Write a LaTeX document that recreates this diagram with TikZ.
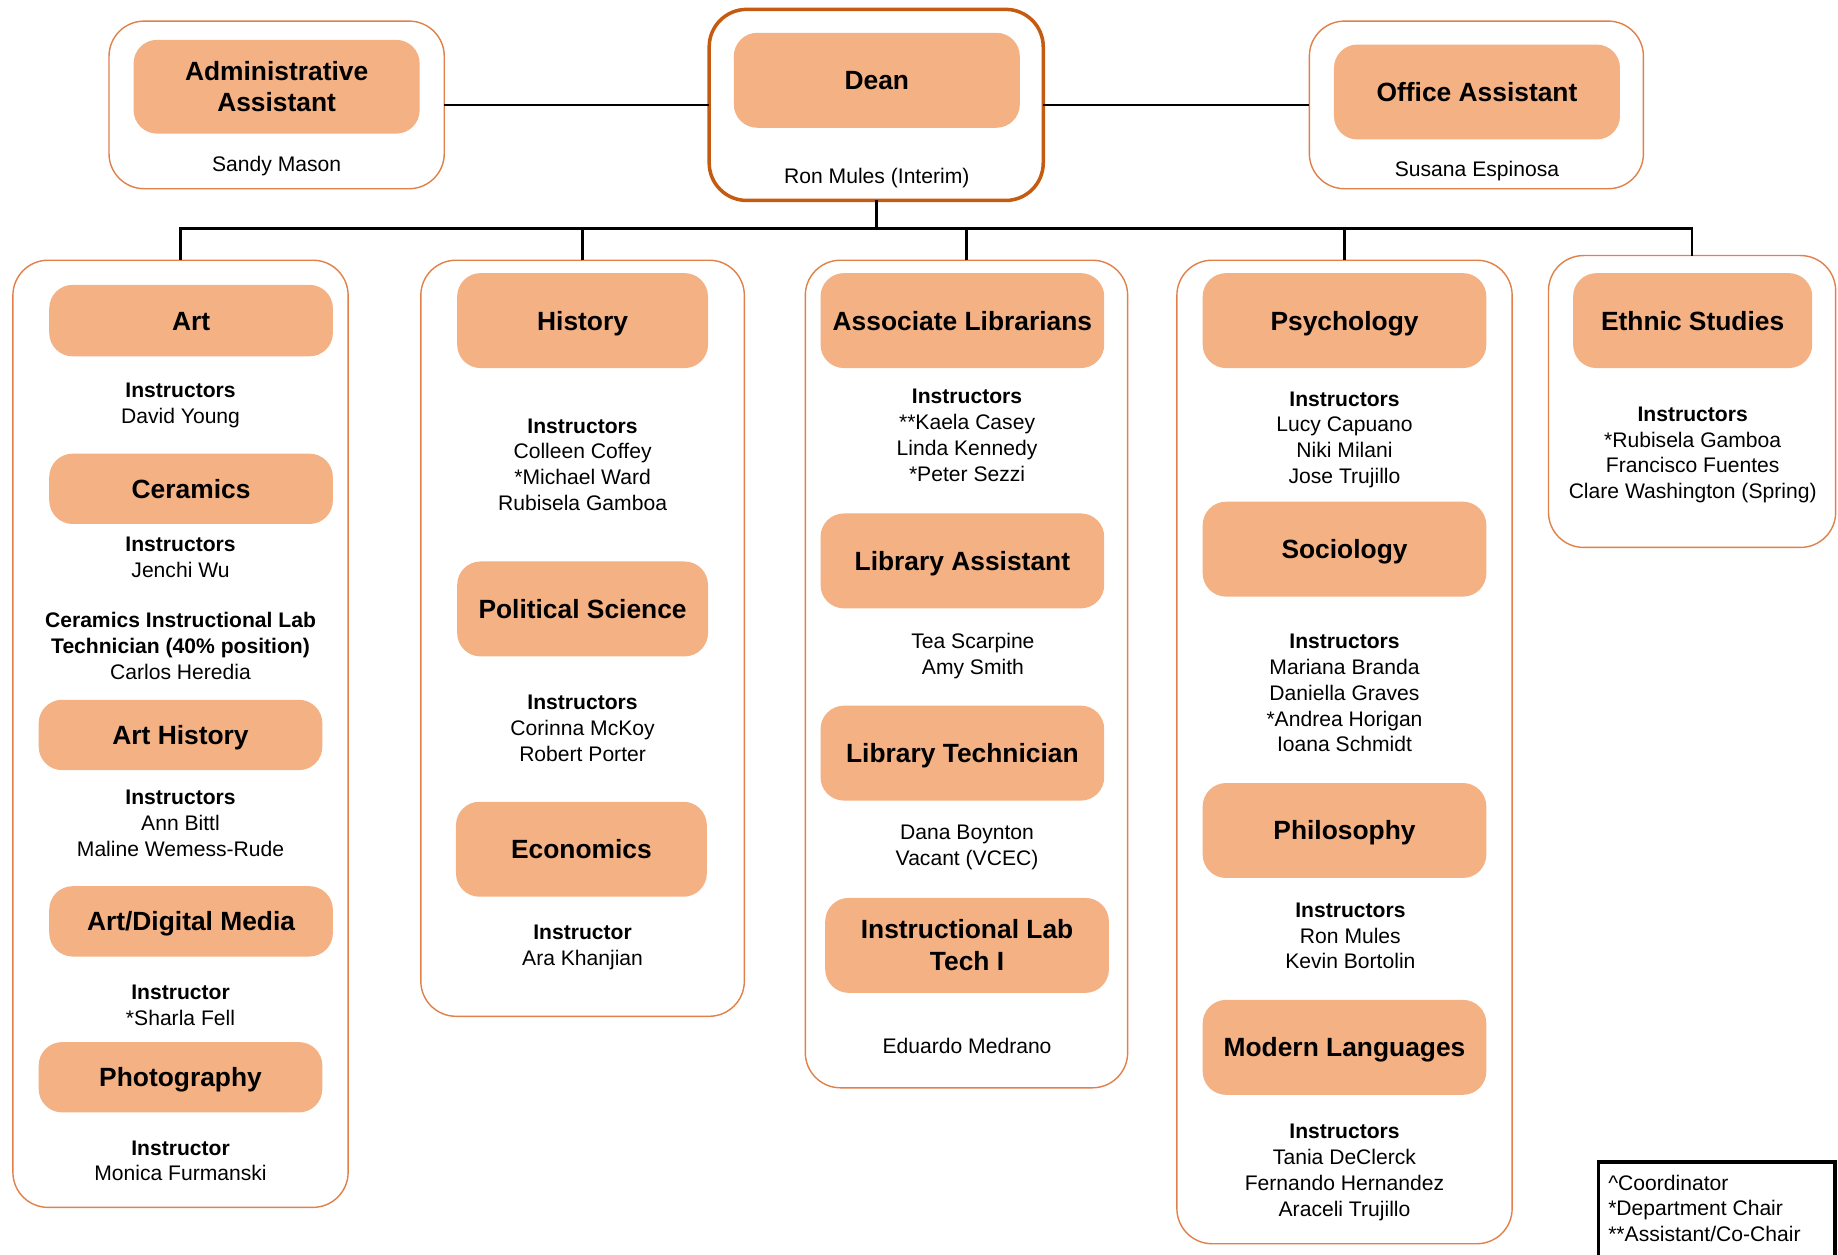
\documentclass[tikz,border=0pt]{standalone}
\usepackage{fontspec}
\setmainfont{Liberation Sans}
\definecolor{boxfill}{HTML}{F4B183}
\definecolor{thinorange}{HTML}{E0814A}
\definecolor{deanorange}{HTML}{C55A11}
\newcommand\lns[1]{\begin{tabular}[t]{@{}c@{}}#1\end{tabular}}
\begin{document}
\begin{tikzpicture}[x=1pt,y=-1pt,
  outerbox/.style={draw=thinorange, line width=1.2pt, rounded corners=30pt, fill=white, inner sep=0pt, outer sep=0pt},
  deanbox/.style={draw=deanorange, line width=3pt, rounded corners=32pt, fill=white, inner sep=0pt, outer sep=0pt},
  titlebox/.style={fill=boxfill, draw=none, rounded corners=20pt, inner sep=0pt, outer sep=0pt,
    font=\fontsize{22.5}{27}\selectfont\bfseries, align=center},
  onel/.style={titlebox, text height=16.1pt, text depth=0pt},
  txt/.style={anchor=base, inner sep=0pt, outer sep=0pt, font=\fontsize{18}{22}\selectfont},
  conn/.style={draw=black, line width=2.3pt}]
\useasboundingbox (0,0) rectangle (1568,1070);
\fill[white] (0,0) rectangle (1568,1070);

% ---- outer boxes ----
\node[outerbox, minimum width=286pt, minimum height=143pt] (admO) at (236,89.5) {};
\node[deanbox, minimum width=285pt, minimum height=163pt] (deanO) at (747.5,89.5) {};
\node[outerbox, minimum width=285pt, minimum height=143pt] (offO) at (1259.5,89.5) {};
\node[outerbox, minimum width=286pt, minimum height=808pt] (artO) at (154,626) {};
\node[outerbox, minimum width=276pt, minimum height=645pt] (histO) at (497,544.5) {};
\node[outerbox, minimum width=275pt, minimum height=706pt] (libO) at (824.5,575) {};
\node[outerbox, minimum width=286pt, minimum height=839pt] (psyO) at (1147,641.5) {};
\node[outerbox, minimum width=245pt, minimum height=249pt] (ethO) at (1443.5,342.5) {};

% ---- connectors ----
\coordinate (bus) at (748,195);
\draw[conn] (admO.east) -- (deanO.west);
\draw[conn] (deanO.east) -- (offO.west);
\draw[conn] (deanO.south) -- (deanO.south |- bus);
\draw[conn] (artO.north) -- (artO.north |- bus) -- (ethO.north |- bus) -- (ethO.north);
\draw[conn] (histO.north |- bus) -- (histO.north);
\draw[conn] (libO.north |- bus) -- (libO.north);
\draw[conn] (psyO.north |- bus) -- (psyO.north);

% ---- top row ----
\node[titlebox, minimum width=244pt, minimum height=80pt] (admT) at (236,74) {Administrative\\Assistant};
\node[txt] (admN) at (236,146) {Sandy Mason};
\node[onel, minimum width=244pt, minimum height=81pt] (deanT) at (748,68.5) {Dean};
\node[txt] (deanN) at (748,156.5) {Ron Mules (Interim)};
\node[onel, minimum width=244pt, minimum height=81pt] (offT) at (1260,78.5) {Office Assistant};
\node[txt] (offN) at (1260,150.5) {Susana Espinosa};

% ---- Art column ----
\node[onel, minimum width=242pt, minimum height=61pt] (art) at (163,273.5) {Art};
\node[txt] (artN) at (154,339.5) {\lns{\textbf{Instructors}\\David Young}};
\node[onel, minimum width=242pt, minimum height=60pt] (cer) at (163,417) {Ceramics};
\node[txt] (cerN) at (154,470.5) {\lns{\textbf{Instructors}\\Jenchi Wu}};
\node[txt] (cerL) at (154,535.5) {\lns{\textbf{Ceramics Instructional Lab}\\\textbf{Technician (40\% position)}\\Carlos Heredia}};
\node[onel, minimum width=242pt, minimum height=60pt] (arth) at (154,627) {Art History};
\node[txt] (arthN) at (154,686.5) {\lns{\textbf{Instructors}\\Ann Bittl\\Maline Wemess-Rude}};
\node[onel, minimum width=242pt, minimum height=60pt] (adm) at (163,786) {Art/Digital Media};
\node[txt] (admdN) at (154,852.5) {\lns{\textbf{Instructor}\\{}*Sharla Fell}};
\node[onel, minimum width=242pt, minimum height=60pt] (photo) at (154,919) {Photography};
\node[txt] (photoN) at (154,985.5) {\lns{\textbf{Instructor}\\Monica Furmanski}};

% ---- History column ----
\node[onel, minimum width=214pt, minimum height=81pt] (hist) at (497,273.5) {History};
\node[txt] (histN) at (497,369.5) {\lns{\textbf{Instructors}\\Colleen Coffey\\{}*Michael Ward\\Rubisela Gamboa}};
\node[onel, minimum width=214pt, minimum height=81pt] (pol) at (497,519.5) {Political Science};
\node[txt] (polN) at (497,605.5) {\lns{\textbf{Instructors}\\Corinna McKoy\\Robert Porter}};
\node[onel, minimum width=214pt, minimum height=81pt] (econ) at (496,724.5) {Economics};
\node[txt] (econN) at (497,801.5) {\lns{\textbf{Instructor}\\Ara Khanjian}};

% ---- Library column ----
\node[onel, minimum width=242pt, minimum height=81pt] (alib) at (821,273.5) {Associate Librarians};
\node[txt] (alibN) at (825,344.5) {\lns{\textbf{Instructors}\\{}**Kaela Casey\\Linda Kennedy\\{}*Peter Sezzi}};
\node[onel, minimum width=242pt, minimum height=81pt] (lasst) at (821,478.5) {Library Assistant};
\node[txt] (lasstN) at (830,553.5) {\lns{Tea Scarpine\\Amy Smith}};
\node[onel, minimum width=242pt, minimum height=81pt] (ltech) at (821,642.5) {Library Technician};
\node[txt] (ltechN) at (825,716.5) {\lns{Dana Boynton\\Vacant (VCEC)}};
\node[titlebox, minimum width=242pt, minimum height=81pt] (ilab) at (825,806.5) {Instructional Lab\\Tech I};
\node[txt] (ilabN) at (825,898.5) {Eduardo Medrano};

% ---- Psychology column ----
\node[onel, minimum width=242pt, minimum height=81pt] (psy) at (1147,273.5) {Psychology};
\node[txt] (psyN) at (1147,346.5) {\lns{\textbf{Instructors}\\Lucy Capuano\\Niki Milani\\Jose Trujillo}};
\node[onel, minimum width=242pt, minimum height=81pt] (soc) at (1147,468.5) {Sociology};
\node[txt] (socN) at (1147,553.5) {\lns{\textbf{Instructors}\\Mariana Branda\\Daniella Graves\\{}*Andrea Horigan\\Ioana Schmidt}};
\node[onel, minimum width=242pt, minimum height=81pt] (phil) at (1147,708.5) {Philosophy};
\node[txt] (philN) at (1152,782.5) {\lns{\textbf{Instructors}\\Ron Mules\\Kevin Bortolin}};
\node[onel, minimum width=242pt, minimum height=81pt] (mod) at (1147,893.5) {Modern Languages};
\node[txt] (modN) at (1147,971.5) {\lns{\textbf{Instructors}\\Tania DeClerck\\Fernando Hernandez\\Araceli Trujillo}};

% ---- Ethnic Studies ----
\node[onel, minimum width=204pt, minimum height=81pt] (eth) at (1444,273.5) {Ethnic Studies};
\node[txt] (ethN) at (1444,359.5) {\lns{\textbf{Instructors}\\{}*Rubisela Gamboa\\Francisco Fuentes\\Clare Washington (Spring)}};

% ---- Legend ----
\draw[line width=3pt, draw=black] (1363.5,1080) -- (1363.5,991.5) -- (1565.5,991.5) -- (1565.5,1080);
\node[txt, anchor=base west] (legend) at (1372,1015.3) {\begin{tabular}[t]{@{}l@{}}\textasciicircum Coordinator\\{}*Department Chair\\{}**Assistant/Co-Chair\end{tabular}};
\end{tikzpicture}
\end{document}
